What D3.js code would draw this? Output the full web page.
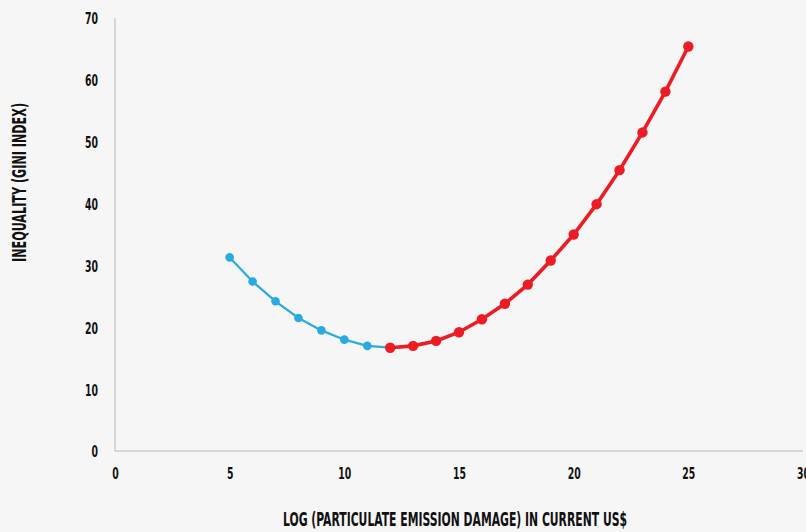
<!DOCTYPE html>
<html><head><meta charset="utf-8">
<script src="https://cdn.jsdelivr.net/npm/d3@7/dist/d3.min.js"></script>
<style>
html,body{margin:0;padding:0;background:#f6f6f6;}
svg{display:block;}
text{font-family:"Liberation Sans Narrow","DejaVu Sans Condensed",sans-serif;font-weight:bold;fill:#111;}
</style></head><body>
<svg id="c" width="806" height="532"></svg>
<script>
const blueX = [5, 6, 7, 8, 9, 10, 11, 12];
const blueY = [31.3, 27.4, 24.2, 21.5, 19.5, 18.0, 17.0, 16.7];
const redX = [12, 13, 14, 15, 16, 17, 18, 19, 20, 21, 22, 23, 24, 25];
const redY = [16.7, 17.0, 17.8, 19.2, 21.3, 23.8, 26.9, 30.8, 35.0, 39.9, 45.4, 51.5, 58.1, 65.4];
const xTicks = [0, 5, 10, 15, 20, 25, 30];
const yTicks = [0, 10, 20, 30, 40, 50, 60, 70];
const xTitle = "LOG (PARTICULATE EMISSION DAMAGE) IN CURRENT US$";
const yTitle = "INEQUALITY (GINI INDEX)";

const svg = d3.select("#c");
const x = d3.scaleLinear().domain([0, 30]).range([115, 803]);
const y = d3.scaleLinear().domain([0, 70]).range([451, 18]);

svg.append("line").attr("x1", x(0)).attr("x2", x(30)).attr("y1", y(0)).attr("y2", y(0))
  .attr("stroke", "#cccccc").attr("stroke-width", 1.5);
svg.append("line").attr("x1", x(0)).attr("x2", x(0)).attr("y1", y(0)).attr("y2", y(70))
  .attr("stroke", "#cccccc").attr("stroke-width", 1.5);

const xAxis = d3.axisBottom(x).tickValues(xTicks).tickSize(0).tickPadding(0);
const gx = svg.append("g").attr("transform", `translate(0,${y(0)})`).call(xAxis);
gx.select(".domain").remove();
gx.selectAll("text").attr("dy", null).attr("y", 28).attr("font-size", 16.5)
  .attr("font-family", null).style("fill", "#111")
  .attr("textLength", d => String(d).length * 6.5).attr("lengthAdjust", "spacingAndGlyphs");

const yAxis = d3.axisLeft(y).tickValues(yTicks).tickSize(0).tickPadding(0);
const gy = svg.append("g").attr("transform", `translate(${x(0) - 17},0)`).call(yAxis);
gy.select(".domain").remove();
gy.selectAll("text").attr("dy", "0.36em").attr("x", 0).attr("font-size", 16.5)
  .attr("font-family", null).style("fill", "#111")
  .attr("textLength", d => String(d).length * 6.5).attr("lengthAdjust", "spacingAndGlyphs");

svg.append("text").attr("x", 455).attr("y", 526).attr("text-anchor", "middle")
  .attr("font-size", 19).attr("textLength", 344).attr("lengthAdjust", "spacingAndGlyphs")
  .text(xTitle);
svg.append("text").attr("transform", "translate(25.5,182.5) rotate(-90)")
  .attr("text-anchor", "middle").attr("font-size", 20)
  .attr("textLength", 159).attr("lengthAdjust", "spacingAndGlyphs").text(yTitle);

const blue = blueX.map((d, i) => [d, blueY[i]]);
const red = redX.map((d, i) => [d, redY[i]]);
const line = d3.line().x(d => x(d[0])).y(d => y(d[1]));

svg.append("path").datum(blue).attr("d", line).attr("fill", "none")
  .attr("stroke", "#29abe2").attr("stroke-width", 2.2);
svg.append("g").selectAll("circle").data(blue).join("circle")
  .attr("cx", d => x(d[0])).attr("cy", d => y(d[1])).attr("r", 4.3).attr("fill", "#29abe2");

svg.append("path").datum(red).attr("d", line).attr("fill", "none")
  .attr("stroke", "#ed1c24").attr("stroke-width", 3.6);
svg.append("g").selectAll("circle").data(red).join("circle")
  .attr("cx", d => x(d[0])).attr("cy", d => y(d[1])).attr("r", 5.2).attr("fill", "#ed1c24");
</script></body></html>
